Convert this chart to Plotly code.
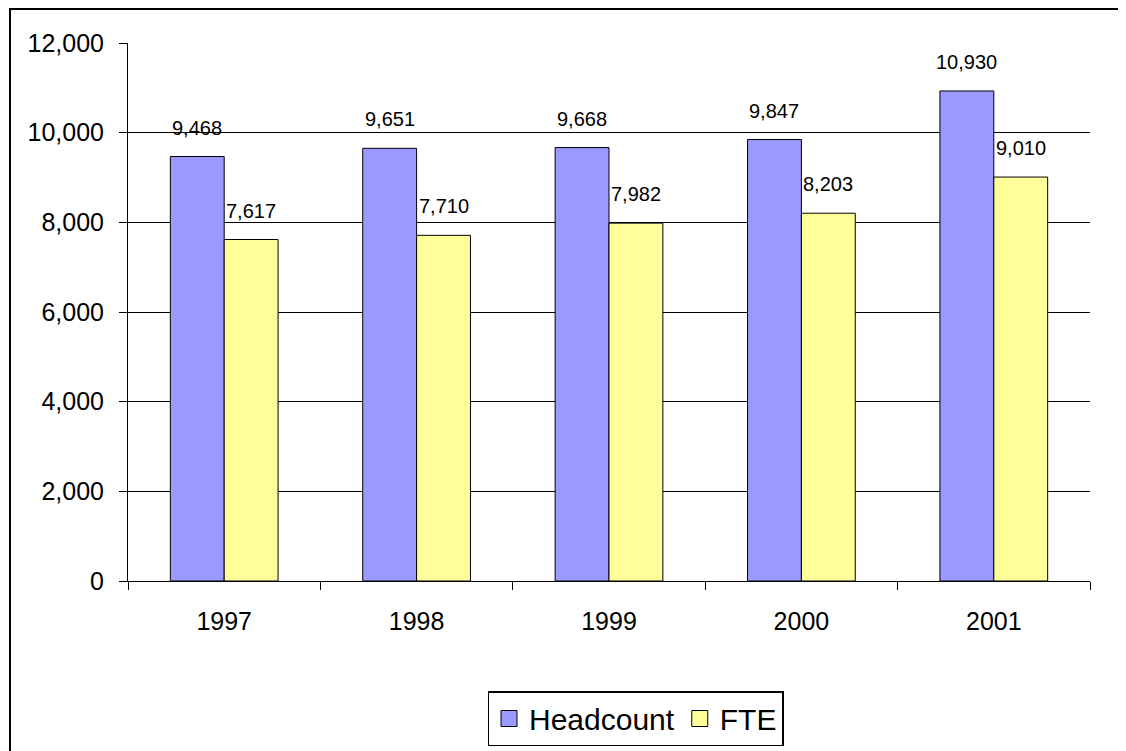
import plotly.graph_objects as go

years = ["1997", "1998", "1999", "2000", "2001"]
headcount = [9468, 9651, 9668, 9847, 10930]
fte = [7617, 7710, 7982, 8203, 9010]
y_ticks = [0, 2000, 4000, 6000, 8000, 10000, 12000]

# page body has an 8px margin, so the figure is offset by (8, 8)
OFF = 8
W, H = 1126 - OFF, 751 - OFF
L, T = 128 - OFF, 43 - OFF
PW, PH = 962, 538
R, B = W - L - PW, H - T - PH

font = "Liberation Sans, Arial, sans-serif"
colors = {"Headcount": "#9999FF", "FTE": "#FFFF99"}

fig = go.Figure()
for name, vals in (("Headcount", headcount), ("FTE", fte)):
    fig.add_trace(go.Bar(name=name, x=years, y=vals, legendgroup=name, showlegend=False,
                         marker=dict(color=colors[name], line=dict(color="black", width=1))))
# larger square legend swatches
for name in ("Headcount", "FTE"):
    fig.add_trace(go.Scatter(name=name, x=[None], y=[None], mode="markers",
                             legendgroup=name, showlegend=True, hoverinfo="skip",
                             marker=dict(symbol="square", size=16, color=colors[name],
                                         line=dict(color="black", width=1))))

annotations = []
for i, yr in enumerate(years):
    for val, shift in ((headcount[i], -27), (fte[i], 27)):
        # category axis: annotation x given as the category index
        annotations.append(dict(x=i, y=val, xref="x", yref="y", text=f"{val:,}",
                                showarrow=False, xshift=shift, yshift=29,
                                font=dict(family=font, size=20, color="black")))

fig.update_layout(
    width=W, height=H,
    margin=dict(l=L, r=R, t=T, b=B, autoexpand=False),
    paper_bgcolor="white", plot_bgcolor="white",
    barmode="group", bargap=0.44, bargroupgap=0,
    font=dict(family=font, color="black"),
    annotations=annotations,
    legend=dict(orientation="h", x=(635.5 - 128) / PW, xanchor="center",
                y=(581 - 691) / PH, yanchor="top",
                bordercolor="black", borderwidth=1.5,
                font=dict(family=font, size=30, color="black"),
                itemwidth=30, traceorder="normal", tracegroupgap=0),
    showlegend=True,
    shapes=[dict(type="rect", xref="paper", yref="paper",
                 x0=(10 - 128) / PW, x1=(1140 - 128) / PW,
                 y0=(581 - 770) / PH, y1=(581 - 9) / PH,
                 line=dict(color="black", width=2), layer="above")],
)
fig.update_xaxes(type="category", range=[-0.5, len(years) - 0.5],
                 showline=True, linecolor="black", linewidth=1,
                 ticks="outside", tickson="boundaries", ticklen=8, tickcolor="black",
                 tickfont=dict(family=font, size=25, color="black"),
                 ticklabelstandoff=18, tickangle=0, showgrid=False)
fig.update_yaxes(range=[0, 12000], tickvals=y_ticks, tickformat=",",
                 showline=True, linecolor="black", linewidth=1,
                 ticks="outside", ticklen=8, tickcolor="black",
                 tickfont=dict(family=font, size=25, color="black"),
                 ticklabelstandoff=10,
                 showgrid=True, gridcolor="black", gridwidth=1, zeroline=False)

fig.write_html("out.html")
